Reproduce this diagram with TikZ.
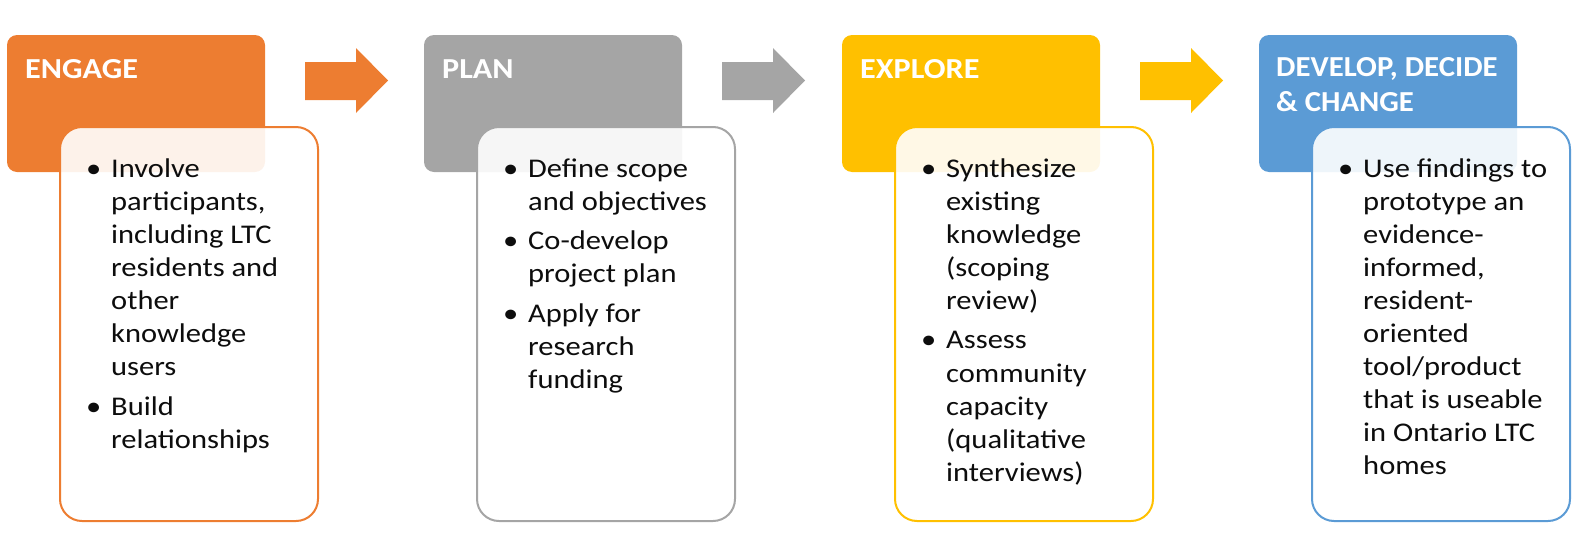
\documentclass[tikz,border=0pt]{standalone}
\usepackage{fontspec}
\setmainfont{Carlito}
\definecolor{corange}{HTML}{ED7D31}
\definecolor{cgray}{HTML}{A5A5A5}
\definecolor{cgold}{HTML}{FFC000}
\definecolor{cblue}{HTML}{5B9BD5}
\definecolor{ctext}{HTML}{0D0D0D}
\tikzset{
  header/.style={rounded corners=10pt},
  whitebox/.style={line width=2pt, fill=white, fill opacity=0.9, rounded corners=22pt},
  title/.style={anchor=base west, inner sep=0pt, text=white, xscale=1.11, transform shape, font=\fontsize{29}{35}\selectfont\bfseries},
  bul/.style={anchor=base west, inner sep=0pt, text=ctext, xscale=1.13, transform shape, font=\fontsize{27}{33.1}\selectfont},
  itm/.style={anchor=base west, inner sep=0pt, text=ctext, xscale=1.13, transform shape, font=\fontsize{27}{33.1}\selectfont}
}
\newcommand\stagebox[2]{% x0, color
  \path[header, fill=#2] (#1,35) rectangle ++(258,137);
  \path[whitebox, draw=#2] (#1+53,127) rectangle ++(258,394);
}
\newcommand\blockarr[2]{% x0 color
  \fill[#2] (#1+298,62) -- (#1+349,62) -- (#1+349,48) -- (#1+381,80.5) -- (#1+349,113) -- (#1+349,100) -- (#1+298,100) -- cycle;
}
\begin{document}
\begin{tikzpicture}[x=1pt,y=-1pt]
\useasboundingbox (0,0) rectangle (1580,536);
% column x0: 7, 424, 842, 1259
\stagebox{7}{corange}
\stagebox{424}{cgray}
\stagebox{842}{cgold}
\stagebox{1259}{cblue}
\blockarr{7}{corange}
\blockarr{424}{cgray}
\blockarr{842}{cgold}
% titles
\node[title] (ta) at (25,78) {ENGAGE};
\node[title] (tb) at (442,78) {PLAN};
\node[title] (tc) at (860,78) {EXPLORE};
\node[title, xscale=0.955] (td) at (1276,76) {\vtop{\hbox{DEVELOP, DECIDE}\hbox{\& CHANGE}}};
% ENGAGE
\node[bul] (a1b) at (86,177) {\textbullet};
\node[itm] (a1) at (111,177) {\vtop{\hbox{Involve}\hbox{participants,}\hbox{including LTC}\hbox{residents and}\hbox{other}\hbox{knowledge}\hbox{users}}};
\node[bul] (a2b) at (86,177+6*33.1+39.5) {\textbullet};
\node[itm] (a2) at (111,177+6*33.1+39.5) {\vtop{\hbox{Build}\hbox{relationships}}};
% PLAN
\node[bul] (b1b) at (503,177) {\textbullet};
\node[itm] (b1) at (528,177) {\vtop{\hbox{Define scope}\hbox{and objectives}}};
\node[bul] (b2b) at (503,177+33.1+39.5) {\textbullet};
\node[itm] (b2) at (528,177+33.1+39.5) {\vtop{\hbox{Co-develop}\hbox{project plan}}};
\node[bul] (b3b) at (503,177+2*33.1+2*39.5) {\textbullet};
\node[itm] (b3) at (528,177+2*33.1+2*39.5) {\vtop{\hbox{Apply for}\hbox{research}\hbox{funding}}};
% EXPLORE
\node[bul] (c1b) at (921,177) {\textbullet};
\node[itm] (c1) at (946,177) {\vtop{\hbox{Synthesize}\hbox{existing}\hbox{knowledge}\hbox{(scoping}\hbox{review)}}};
\node[bul] (c2b) at (921,177+4*33.1+39.5) {\textbullet};
\node[itm] (c2) at (946,177+4*33.1+39.5) {\vtop{\hbox{Assess}\hbox{community}\hbox{capacity}\hbox{(qualitative}\hbox{interviews)}}};
% DEVELOP
\node[bul] (d1b) at (1338,177) {\textbullet};
\node[itm] (d1) at (1363,177) {\vtop{\hbox{Use findings to}\hbox{prototype an}\hbox{evidence-}\hbox{informed,}\hbox{resident-}\hbox{oriented}\hbox{tool/product}\hbox{that is useable}\hbox{in Ontario LTC}\hbox{homes}}};
\end{tikzpicture}
\end{document}
